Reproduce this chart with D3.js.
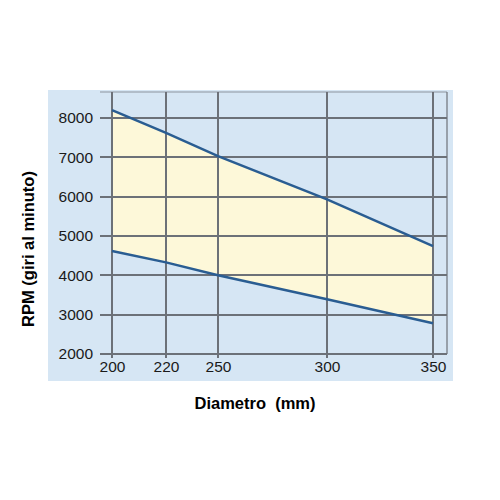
<!DOCTYPE html>
<html>
  <head>
    <meta charset="utf-8">
    <title>RPM vs Diametro</title>
  </head>
  <style>
    body { margin: 0; background: #ffffff; }
    .grid line { stroke: #6c7178; stroke-width: 1.5px; shape-rendering: crispEdges; }
    .tick text { font-family: "Liberation Sans", Arial, sans-serif; font-size: 15.5px; fill: #1a1a1a; }
    .title { font-family: "Liberation Sans", Arial, sans-serif; font-weight: bold; fill: #000000; white-space: pre; }
    .rpmline { fill: none; stroke: #2a5d92; stroke-width: 2.5px; }
  </style>
  <body>
    <div id="chart"></div>
    <script src="https://cdn.jsdelivr.net/npm/d3@7"></script>
    <script>

      // diameters (mm) and rpm limits
      var diametri   = [200, 220, 250, 300, 350];
      var rpmMax     = [8200, 7620, 7030, 5930, 4740];
      var rpmMin     = [4620, 4330, 4000, 3390, 2780];
      var yTicks     = [2000, 3000, 4000, 5000, 6000, 7000, 8000];

      var xaxis_lbl  = "Diametro  (mm)",
          yaxis_lbl  = "RPM (giri al minuto)";

      var W = 500, H = 500;

      var data = diametri.map(function(d, i){ return {x: d, hi: rpmMax[i], lo: rpmMin[i]}; });

      // the x axis in the picture is not evenly spaced: 200-220-250 are close, 300 and 350 far apart
      var x = d3.scaleLinear()
                .domain(diametri)
                .range([112, 166, 218, 327, 433]);

      var y = d3.scaleLinear()
                .domain([2000, 8000])
                .range([354, 118]);

      var svg = d3.select("#chart")
                  .append("svg")
                  .attr("width", W)
                  .attr("height", H);

      // light blue panel
      svg.append("rect")
         .attr("x", 48).attr("y", 90)
         .attr("width", 405).attr("height", 291)
         .attr("fill", "#d6e6f4");

      // yellow band between the two limits
      var area = d3.area()
                   .x(function(d){ return x(d.x); })
                   .y0(function(d){ return y(d.lo); })
                   .y1(function(d){ return y(d.hi); });

      svg.append("path")
         .datum(data)
         .attr("fill", "#fdf8d9")
         .attr("d", area);

      /*
        grid
      */
      var grid = svg.append("g").attr("class", "grid");

      grid.selectAll("line.h")
          .data(yTicks)
          .enter().append("line")
          .attr("class", "h")
          .attr("x1", 100).attr("x2", 447)
          .attr("y1", function(d){ return Math.round(y(d)); })
          .attr("y2", function(d){ return Math.round(y(d)); });

      grid.selectAll("line.v")
          .data(diametri)
          .enter().append("line")
          .attr("class", "v")
          .attr("y1", 92).attr("y2", 358)
          .attr("x1", function(d){ return Math.round(x(d)); })
          .attr("x2", function(d){ return Math.round(x(d)); });

      // frame top and right
      grid.append("line").attr("x1", 100).attr("x2", 447).attr("y1", 92).attr("y2", 92)
          .style("stroke-opacity", 0.35);
      grid.append("line").attr("x1", 447).attr("x2", 447).attr("y1", 92).attr("y2", 354)
          .style("stroke-opacity", 0.6);

      /*
        axes (labels only, the grid draws the lines)
      */
      var xAxis = d3.axisBottom(x).tickValues(diametri).tickSize(0).tickPadding(0)
                    .tickFormat(d3.format("d"));
      var gX = svg.append("g")
                  .attr("transform", "translate(0,361)")
                  .call(xAxis);
      gX.select(".domain").remove();

      var yAxis = d3.axisLeft(y).tickValues(yTicks).tickSize(0).tickPadding(0)
                    .tickFormat(d3.format("d"));
      var gY = svg.append("g")
                  .attr("transform", "translate(93,0)")
                  .call(yAxis);
      gY.select(".domain").remove();

      // lines for the two limits
      var lineHi = d3.line().x(function(d){ return x(d.x); }).y(function(d){ return y(d.hi); });
      var lineLo = d3.line().x(function(d){ return x(d.x); }).y(function(d){ return y(d.lo); });

      svg.append("path").datum(data).attr("class", "rpmline").attr("d", lineHi);
      svg.append("path").datum(data).attr("class", "rpmline").attr("d", lineLo);

      // axis titles
      svg.append("text")
         .attr("class", "title")
         .attr("x", 255).attr("y", 409)
         .style("font-size", "16.5px")
         .style("text-anchor", "middle")
         .text(xaxis_lbl);

      svg.append("text")
         .attr("class", "title")
         .attr("transform", "translate(34,249) rotate(-90)")
         .style("font-size", "16.5px")
         .style("text-anchor", "middle")
         .text(yaxis_lbl);

    </script>
  </body>
</html>
